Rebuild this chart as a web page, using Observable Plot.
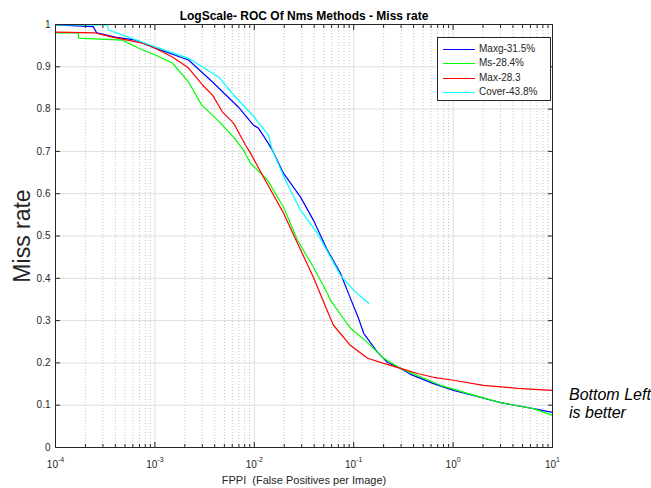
<!DOCTYPE html>
<html><head><meta charset="utf-8">
<script src="https://cdn.jsdelivr.net/npm/d3@7"></script>
<script src="https://cdn.jsdelivr.net/npm/@observablehq/plot@0.6"></script>
<style>
body{margin:0;background:#fff;font-family:"Liberation Sans",Arial,sans-serif;}
#wrap{position:relative;width:651px;height:488px;overflow:hidden;}
#legend{position:absolute;left:437px;top:37px;width:114px;height:64px;box-sizing:border-box;border:1px solid #262626;background:#fff;font-size:10px;color:#262626;}
#legend .row{position:absolute;left:0;height:14px;width:112px;}
#legend .ln{position:absolute;left:5px;top:7px;width:32px;height:0;border-top:1px solid;}
#legend .tx{position:absolute;left:41px;top:1px;line-height:12px;white-space:nowrap;}
#note{position:absolute;left:569px;top:386px;font-size:16px;line-height:18px;font-style:italic;color:#000;}
</style></head><body><div id="wrap"></div>
<script>
const titleText = "LogScale- ROC Of Nms Methods - Miss rate";
const xLabelText = "FPPI  (False Positives per Image)";
const yLabelText = "Miss rate";
const noteLines = ["Bottom Left", "is better"];

const seriesNames = ["Maxg-31.5%", "Ms-28.4%", "Max-28.3", "Cover-43.8%"];
const seriesColors = ["#0000ff", "#00ff00", "#ff0000", "#00ffff"];

const maxgFppi = [1e-4, 2.4e-4, 2.6e-4, 4.0e-4, 6.4e-4, 1.01e-3, 2.18e-3, 3.8e-3, 6.9e-3, 9.8e-3, 0.011, 0.0136, 0.0152, 0.0197, 0.0292, 0.0394, 0.0545, 0.0736, 0.0929, 0.112, 0.126, 0.174, 0.219, 0.296, 0.373, 0.635, 1.01, 1.60, 3.0, 6.44, 10];
const maxgMiss = [0.999, 0.995, 0.980, 0.970, 0.963, 0.944, 0.916, 0.864, 0.805, 0.762, 0.755, 0.722, 0.703, 0.648, 0.592, 0.537, 0.466, 0.412, 0.352, 0.305, 0.270, 0.225, 0.201, 0.187, 0.173, 0.151, 0.135, 0.123, 0.106, 0.092, 0.083];

const msFppi = [1e-4, 1.70e-4, 1.71e-4, 4.72e-4, 6.84e-4, 1.01e-3, 1.5e-3, 2.18e-3, 2.95e-3, 4.27e-3, 6.18e-3, 7.78e-3, 9.16e-3, 0.0136, 0.0197, 0.0272, 0.0394, 0.0545, 0.0584, 0.0789, 0.0929, 0.138, 0.200, 0.296, 0.438, 0.747, 1.40, 3.0, 6.44, 10];
const msMiss = [0.980, 0.980, 0.968, 0.963, 0.944, 0.928, 0.909, 0.864, 0.810, 0.774, 0.734, 0.703, 0.672, 0.632, 0.568, 0.490, 0.426, 0.364, 0.348, 0.305, 0.282, 0.248, 0.211, 0.187, 0.170, 0.147, 0.128, 0.106, 0.092, 0.076];

const maxFppi = [1e-4, 2.52e-4, 3.74e-4, 7.5e-4, 1.01e-3, 1.5e-3, 2.18e-3, 3.01e-3, 3.8e-3, 4.79e-3, 6.18e-3, 8.15e-3, 9.16e-3, 0.0124, 0.0197, 0.0272, 0.0394, 0.0584, 0.0626, 0.0929, 0.138, 0.200, 0.296, 0.438, 0.635, 1.01, 2.02, 4.45, 10];
const maxMiss = [0.982, 0.980, 0.970, 0.956, 0.944, 0.923, 0.897, 0.857, 0.833, 0.793, 0.767, 0.715, 0.696, 0.639, 0.554, 0.483, 0.402, 0.305, 0.289, 0.241, 0.211, 0.199, 0.187, 0.175, 0.166, 0.159, 0.147, 0.140, 0.135];

const coverFppi = [1e-4, 3.33e-4, 3.41e-4, 1.01e-3, 2.18e-3, 4.37e-3, 6.47e-3, 9.59e-3, 0.0139, 0.0152, 0.0206, 0.0292, 0.0432, 0.0557, 0.0736, 0.0995, 0.141];
const coverMiss = [0.999, 0.999, 0.987, 0.947, 0.920, 0.876, 0.828, 0.786, 0.738, 0.703, 0.632, 0.561, 0.506, 0.459, 0.407, 0.372, 0.341];

const xTicks = [1e-4, 1e-3, 1e-2, 1e-1, 1, 10];
const xTickExponents = ["-4", "-3", "-2", "-1", "0", "1"];
const yTicks = [0, 0.1, 0.2, 0.3, 0.4, 0.5, 0.6, 0.7, 0.8, 0.9, 1];
const yTickLabels = ["0", "0.1", "0.2", "0.3", "0.4", "0.5", "0.6", "0.7", "0.8", "0.9", "1"];

const xMinor = [];
xTicks.slice(0, -1).forEach(d => { for (let m = 2; m <= 9; m++) xMinor.push(d * m); });

const allFppi = [maxgFppi, msFppi, maxFppi, coverFppi];
const allMiss = [maxgMiss, msMiss, maxMiss, coverMiss];
const rows = [];
seriesNames.forEach((name, s) => {
  allFppi[s].forEach((f, i) => rows.push({name, fppi: f, miss: allMiss[s][i]}));
});

const ink = "#262626";
const fig = Plot.plot({
  width: 651, height: 488,
  marginTop: 24, marginBottom: 41, marginLeft: 55, marginRight: 99,
  style: {fontFamily: "'Liberation Sans', Arial, sans-serif", background: "white", color: ink},
  x: {type: "log", domain: [1e-4, 10], label: null},
  y: {domain: [0, 1], label: null},
  color: {domain: seriesNames, range: seriesColors},
  marks: [
    Plot.ruleX(xMinor, {stroke: "#c4c4c4", strokeDasharray: "1,2"}),
    Plot.ruleX(xTicks, {stroke: "#dedede"}),
    Plot.ruleY(yTicks, {stroke: "#dedede"}),
    Plot.line(rows, {x: "fppi", y: "miss", z: "name", stroke: "name", strokeWidth: 1.2}),
    Plot.frame({stroke: ink}),
    Plot.axisX(xMinor, {anchor: "bottom", tickSize: -3, text: null, label: null, stroke: ink}),
    Plot.axisX(xMinor, {anchor: "top", tickSize: -3, text: null, label: null, stroke: ink}),
    Plot.axisX(xTicks, {anchor: "bottom", tickSize: -5, text: null, label: null, stroke: ink}),
    Plot.axisX(xTicks, {anchor: "top", tickSize: -5, text: null, label: null, stroke: ink}),
    Plot.axisX(xTicks, {anchor: "bottom", tickSize: 0, tickPadding: 13, label: null, fontSize: 10, fill: ink,
      ariaLabel: "pow-labels", tickFormat: d => "10^" + xTickExponents[xTicks.indexOf(d)]}),
    Plot.axisY(yTicks, {anchor: "left", tickSize: -5, text: null, label: null, stroke: ink}),
    Plot.axisY(yTicks, {anchor: "right", tickSize: -5, text: null, label: null, stroke: ink}),
    Plot.axisY(yTicks, {anchor: "left", tickSize: 0, tickPadding: 5, label: null, fontSize: 10, fill: ink,
      tickFormat: d => yTickLabels[yTicks.indexOf(d)]}),
    Plot.text([titleText], {frameAnchor: "top", lineAnchor: "bottom", dy: -5, fontWeight: "bold", fontSize: 12, fill: "#000"}),
    Plot.text([xLabelText], {frameAnchor: "bottom", lineAnchor: "bottom", dy: 36, fontSize: 11, fill: ink}),
    Plot.text([yLabelText], {frameAnchor: "left", textAnchor: "middle", rotate: -90, dx: -33, fontSize: 23, fill: ink})
  ]
});

// render "10^e" labels as base + raised exponent
d3.select(fig).selectAll("text").each(function() {
  const t = this.textContent;
  const m = /^10\^(-?\d+)$/.exec(t);
  if (!m) return;
  const el = d3.select(this);
  el.text(null);
  el.append("tspan").text("10");
  el.append("tspan").attr("dy", "-6").attr("font-size", "7px").text(m[1]);
});

const wrap = document.getElementById("wrap");
wrap.appendChild(fig);

const legend = d3.select(wrap).append("div").attr("id", "legend");
seriesNames.forEach((name, i) => {
  const row = legend.append("div").attr("class", "row").style("top", (4 + i * 14.4) + "px");
  row.append("div").attr("class", "ln").style("border-top-color", seriesColors[i]);
  row.append("div").attr("class", "tx").text(name);
});

const note = d3.select(wrap).append("div").attr("id", "note");
noteLines.forEach(t => note.append("div").text(t));
</script>
</body></html>
